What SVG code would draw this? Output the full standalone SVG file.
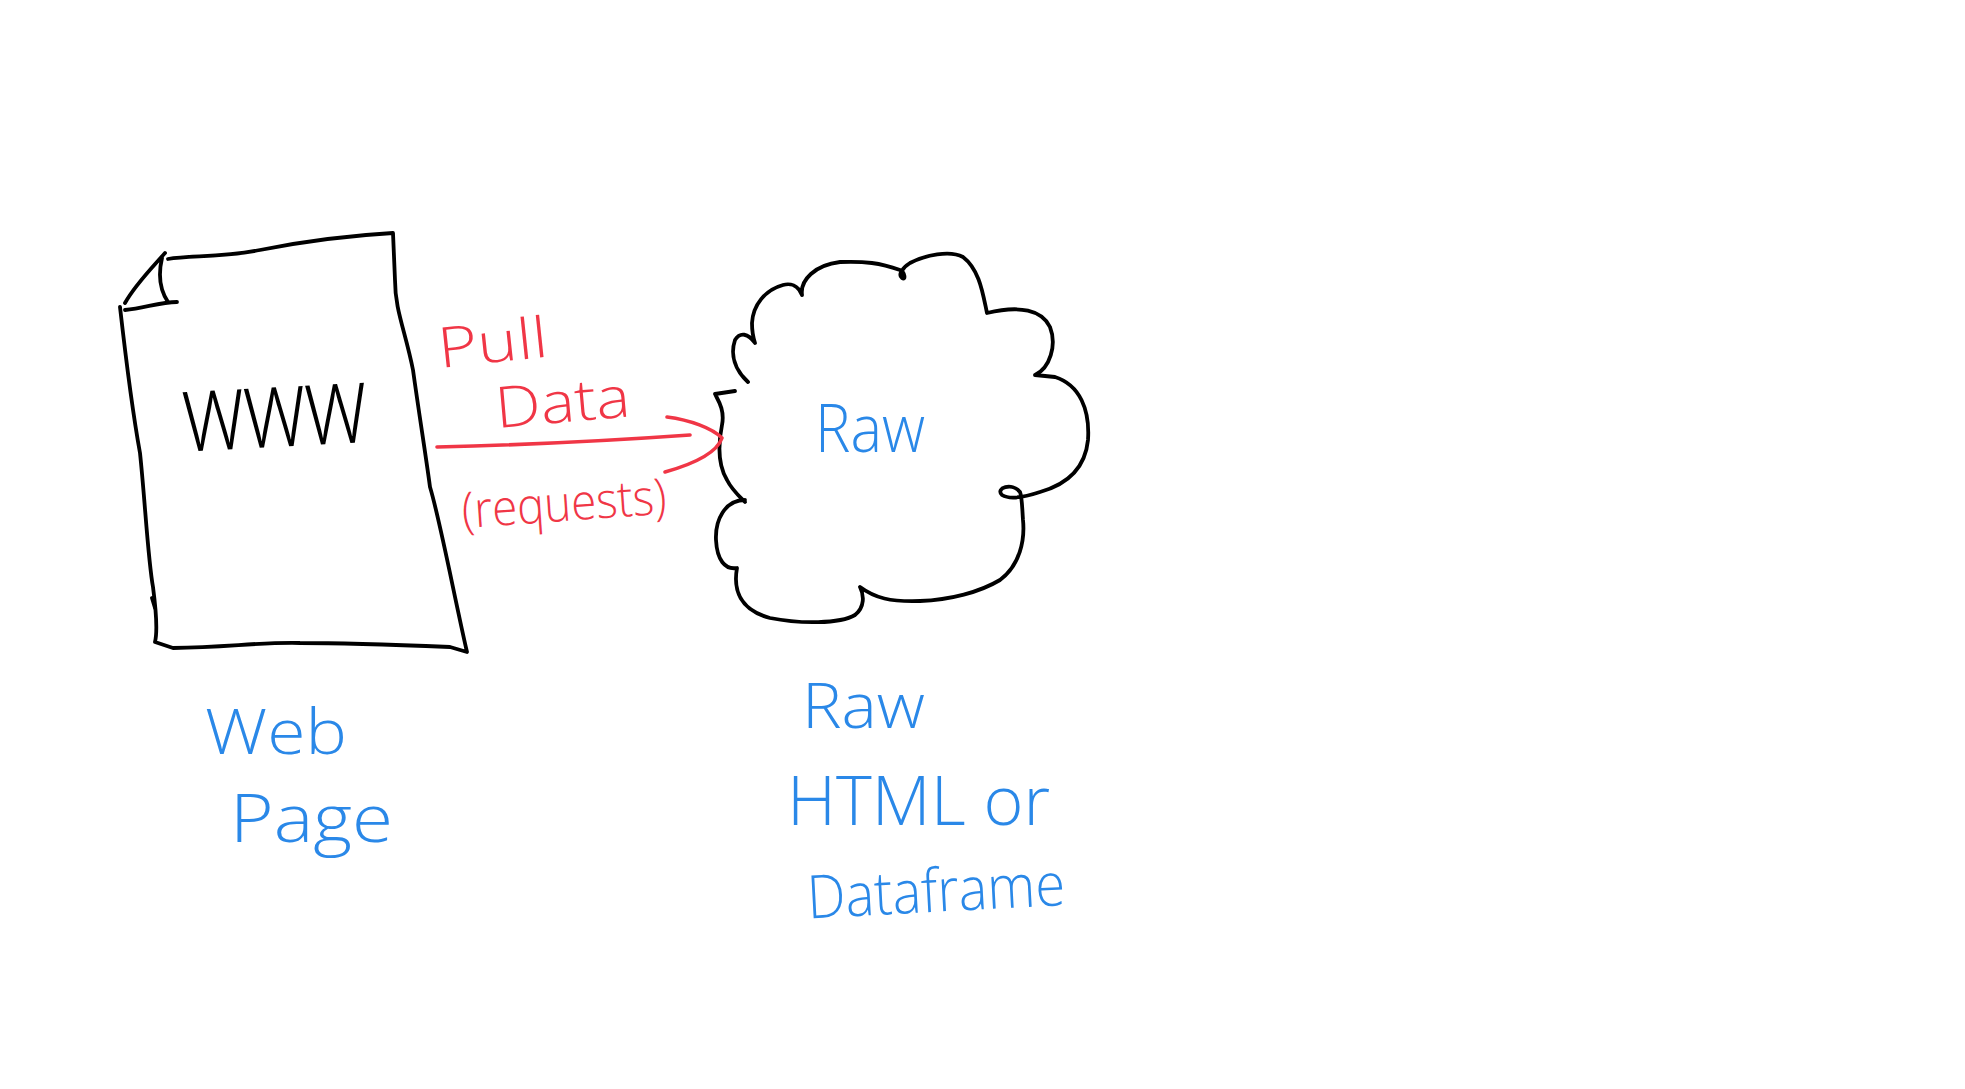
<svg xmlns="http://www.w3.org/2000/svg" width="1965" height="1089" viewBox="0 0 1965 1089">
<style>
.ink{fill:none;stroke:#000;stroke-width:3.8;stroke-linecap:round;stroke-linejoin:round}
.red{fill:none;stroke:#f03646;stroke-width:3.6;stroke-linecap:round;stroke-linejoin:round}
.tk{font-family:"Open Sans","Liberation Sans",Arial,sans-serif;font-weight:300;fill:#000}
.tr{font-family:"Open Sans","Liberation Sans",Arial,sans-serif;font-weight:300;fill:#f03646}
.tb{font-family:"Open Sans","Liberation Sans",Arial,sans-serif;font-weight:300;fill:#2a88e8}
</style>
<rect width="1965" height="1089" fill="#fff"/>
<g id="webpage">
<path class="ink" d="M120,307 C126,360 134,420 140,453 C145,500 148,560 153,587 C156,610 158,630 155,642 L173,648 C230,647 260,642 300,643 C350,643 400,645 450,647 L467,652 C455,600 440,520 430,487 C425,450 420,420 413,370 C405,330 395,310 395,280 L393,233 C340,236 300,242 260,250 C220,258 190,255 168,259"/>
<path class="ink" d="M125,303 C135,285 150,270 165,253 M162,258 C158,275 160,290 168,302 M125,310 C145,308 160,302 177,302 M152,598 L155,608"/>
<text class="tk" x="183" y="447" font-size="112" textLength="184" lengthAdjust="spacingAndGlyphs" transform="rotate(-3 275 420)">www</text>
<text class="tb" x="205" y="754" font-size="62" textLength="142" lengthAdjust="spacingAndGlyphs">Web</text>
<text class="tb" x="230" y="842" font-size="66" textLength="163" lengthAdjust="spacingAndGlyphs">Page</text>
</g>
<g id="raw">
<path class="ink" d="M735,391 L715,394 C718,400 725,410 722,425 C718,445 718,465 727,480 C732,490 740,497 745,502 M745,500 C725,500 715,520 716,540 C717,560 725,570 737,568 C733,590 740,610 770,618 C800,624 840,624 855,615 C865,607 864,595 860,587 C875,598 890,602 920,601 C950,600 980,592 1000,580 C1020,565 1025,540 1023,520 C1022,505 1022,497 1020,492 C1012,482 995,488 1002,495 C1010,500 1025,497 1040,492 C1065,485 1085,470 1088,440 C1090,410 1080,385 1055,377 L1035,375 C1050,368 1057,345 1050,327 C1042,310 1020,305 987,313 C983,295 980,270 963,257 C950,250 925,255 910,263 C902,268 898,275 902,278 C906,281 905,272 900,270 C880,263 865,261 840,262 C815,265 800,280 802,295 C798,285 790,283 783,285 C765,290 753,305 752,323 C752,333 754,340 755,343 C748,333 740,332 735,340 C730,355 735,370 748,382"/>
<text class="tb" x="815" y="452" font-size="66" textLength="110" lengthAdjust="spacingAndGlyphs">Raw</text>
<text class="tb" x="802" y="728" font-size="62" textLength="123" lengthAdjust="spacingAndGlyphs">Raw</text>
<text class="tb" x="787" y="825" font-size="68" textLength="263" lengthAdjust="spacingAndGlyphs">HTML or</text>
<text class="tb" x="807" y="912" font-size="60" textLength="258" lengthAdjust="spacingAndGlyphs" transform="rotate(-3 930 890)">Dataframe</text>
</g>
<g id="connectors">
<path class="red" d="M437,447 C520,445 620,440 690,435"/>
<path class="red" d="M667,417 C690,420 712,428 722,438 C716,455 690,465 665,472"/>
<text class="tr" x="440" y="368" font-size="56" textLength="110" lengthAdjust="spacingAndGlyphs" transform="rotate(-6 440 368)">Pull</text>
<text class="tr" x="497" y="428" font-size="57" textLength="135" lengthAdjust="spacingAndGlyphs" transform="rotate(-5 497 428)">Data</text>
<text class="tr" x="463" y="528" font-size="50" textLength="205" lengthAdjust="spacingAndGlyphs" transform="rotate(-4 463 528)">(requests)</text>
</g>
</svg>
